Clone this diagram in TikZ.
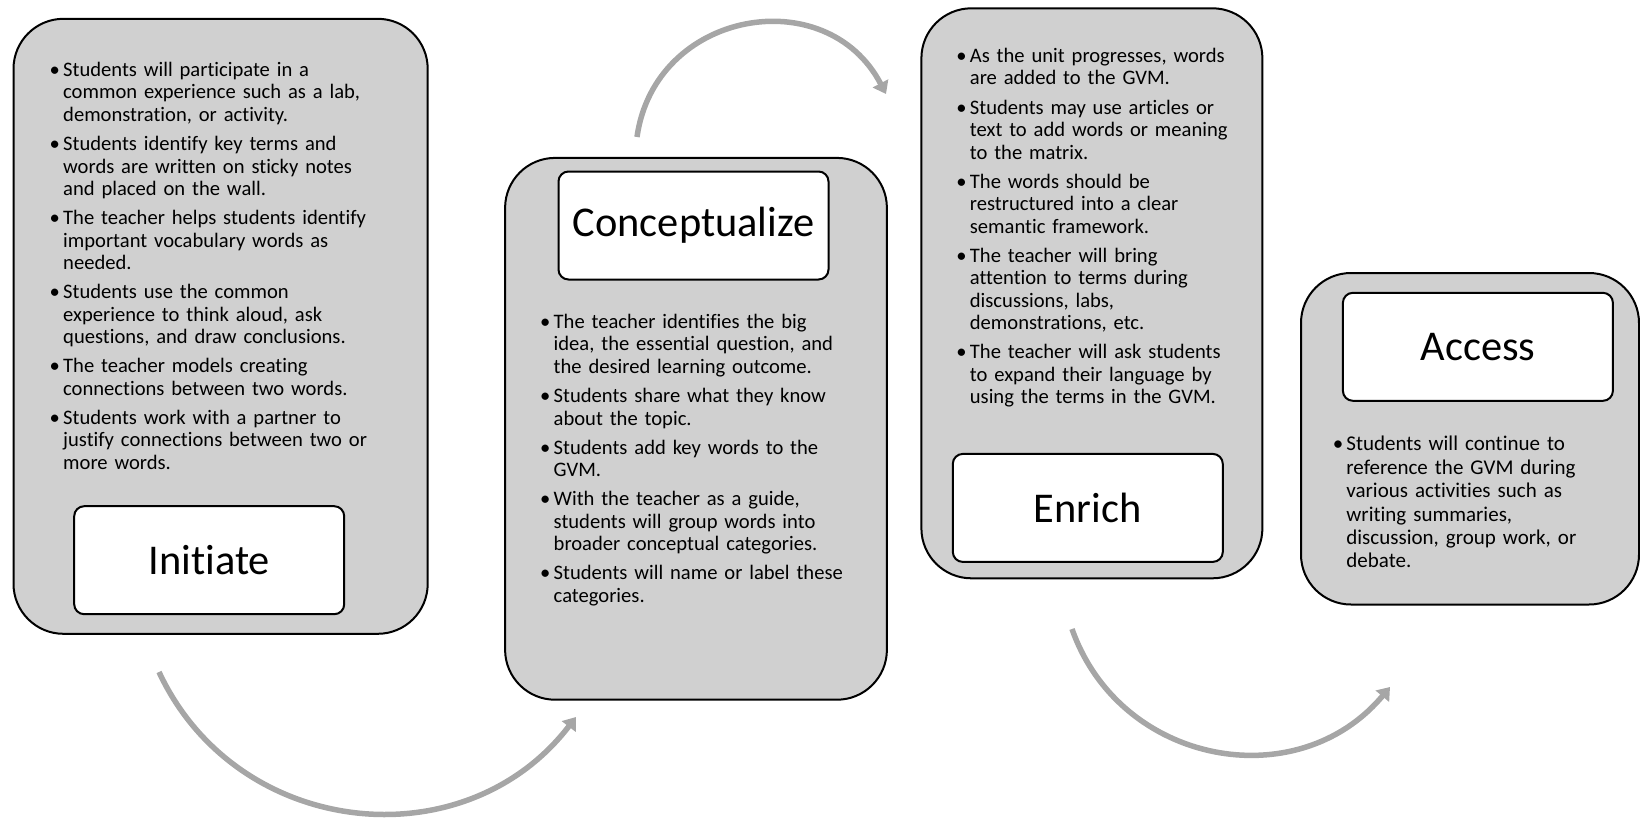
\documentclass[tikz,border=0pt]{standalone}
\usepackage{fontspec}
\setmainfont{Carlito}[Ligatures=NoCommon]
\usepackage{enumitem}
\usetikzlibrary{arrows.meta}
\definecolor{boxgray}{RGB}{208,208,208}
\definecolor{arrowgray}{RGB}{166,166,166}
\setlist[itemize]{label=\textbullet, leftmargin=5pt, labelsep=1.6pt, itemsep=3.3pt, topsep=0pt, parsep=0pt, partopsep=0pt}

\begin{document}
\begin{tikzpicture}[x=0.5pt, y=0.5pt,
	stage/.style = {draw, line width=1pt, fill=boxgray, rounded corners=25pt, anchor=north west, inner sep=0pt},
	title/.style = {draw, line width=1pt, fill=white, rounded corners=5pt, anchor=north west, minimum width=135pt, minimum height=54pt, inner sep=0pt, font=\fontsize{21.2}{25}\selectfont},
	list/.style = {anchor=north west, inner sep=0pt, text width=175pt, align=left, font=\fontsize{10.3}{11.25}\selectfont},
	flow/.style = {draw=arrowgray, line width=2.75pt, -{Triangle[length=6pt,width=8.5pt]}}]
			\useasboundingbox (0,0) rectangle (1640,-820);
			\node[stage, minimum width=207.1pt, minimum height=307.5pt] (init) at (12.5,-17.8) {};
			\node[stage, minimum width=190.9pt, minimum height=270.9pt] (conc) at (504.1,-156.9) {};
			\node[stage, minimum width=170.5pt, minimum height=285pt] (enr) at (920.4,-7.3) {};
			\node[stage, minimum width=169pt, minimum height=165.75pt] (acc) at (1300,-272) {};
			\node[title] (initT) at (73.2,-505.2) {Initiate};
			\node[title] (concT) at (557.5,-170.5) {Conceptualize};
			\node[title] (enrT) at (951.8,-452.9) {Enrich};
			\node[title] (accT) at (1341.9,-291.8) {Access};
			\node[list] (initL) at (52.8,-53.5) {\begin{itemize}
				\item Students will participate in a\newline common experience such as a lab,\newline demonstration, or activity.
				\item Students identify key terms and\newline words are written on sticky notes\newline and placed on the wall.
				\item The teacher helps students identify\newline important vocabulary words as\newline needed.
				\item Students use the common\newline experience to think aloud, ask\newline questions, and draw conclusions.
				\item The teacher models creating\newline connections between two words.
				\item Students work with a partner to\newline justify connections between two or\newline more words.
			\end{itemize}};
			\node[list] (concL) at (543.3,-305.5) {\begin{itemize}
				\item The teacher identifies the big\newline idea, the essential question, and\newline the desired learning outcome.
				\item Students share what they know\newline about the topic.
				\item Students add key words to the\newline GVM.
				\item With the teacher as a guide,\newline students will group words into\newline broader conceptual categories.
				\item Students will name or label these\newline categories.
			\end{itemize}};
			\node[list] (enrL) at (959.5,-39.5) {\begin{itemize}
				\item As the unit progresses, words\newline are added to the GVM.
				\item Students may use articles or\newline text to add words or meaning\newline to the matrix.
				\item The words should be\newline restructured into a clear\newline semantic framework.
				\item The teacher will bring\newline attention to terms during\newline discussions, labs,\newline demonstrations, etc.
				\item The teacher will ask students\newline to expand their language by\newline using the terms in the GVM.
			\end{itemize}};
			\node[list, font=\fontsize{10.5}{11.7}\selectfont] (accL) at (1336,-427) {\begin{itemize}
				\item Students will continue to\newline reference the GVM during\newline various activities such as\newline writing summaries,\newline discussion, group work, or\newline debate.
			\end{itemize}};
			\coordinate (a1) at (159,-672);
			\coordinate (b1) at (576,-717);
			\coordinate (a2) at (637,-137);
			\coordinate (b2) at (886,-94);
			\coordinate (a3) at (1072,-629);
			\coordinate (b3) at (1390,-687);
			\draw[flow] (a1) to[out=295, in=232.5, looseness=1.12] (b1);
			\draw[flow] (a2) to[out=82, in=117.6, looseness=1.3] (b2);
			\draw[flow] (a3) to[out=289.4, in=230.1, looseness=1.14] (b3);
		\end{tikzpicture}
\end{document}
